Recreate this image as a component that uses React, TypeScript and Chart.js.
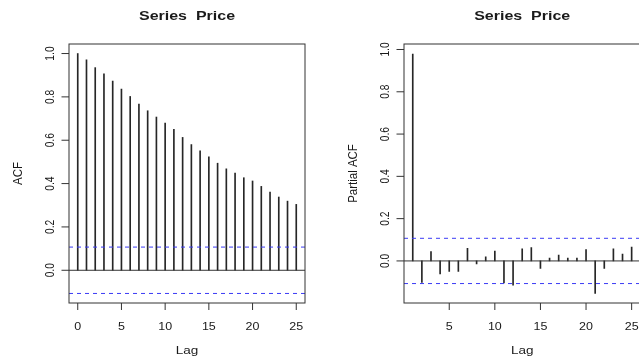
import React, { useEffect, useRef } from "react";
import { Chart, registerables } from "chart.js";

Chart.register(...registerables);

// ---- Data ----
const chartTitle = "Series  Price";
const xAxisTitle = "Lag";
const acfAxisTitle = "ACF";
const pacfAxisTitle = "Partial ACF";

const acfLags = [0, 1, 2, 3, 4, 5, 6, 7, 8, 9, 10, 11, 12, 13, 14, 15, 16, 17, 18, 19, 20, 21, 22, 23, 24, 25];
const acfValues = [
  1.0, 0.971, 0.935, 0.906, 0.873, 0.836, 0.802, 0.767, 0.736, 0.707, 0.679, 0.65, 0.613,
  0.58, 0.551, 0.523, 0.494, 0.468, 0.448, 0.427, 0.412, 0.387, 0.361, 0.338, 0.319, 0.304,
];

const pacfLags = [1, 2, 3, 4, 5, 6, 7, 8, 9, 10, 11, 12, 13, 14, 15, 16, 17, 18, 19, 20, 21, 22, 23, 24, 25];
const pacfValues = [
  0.978, -0.102, 0.044, -0.061, -0.05, -0.05, 0.06, -0.014, 0.019, 0.047, -0.104, -0.115, 0.057,
  0.063, -0.036, 0.014, 0.028, 0.014, 0.014, 0.054, -0.154, -0.036, 0.057, 0.032, 0.066,
];

const ciBound = 0.107;

const acfXTicks = [0, 5, 10, 15, 20, 25];
const pacfXTicks = [5, 10, 15, 20, 25];
const yTickValues = [0, 0.2, 0.4, 0.6, 0.8, 1.0];
const yTickLabels = ["0.0", "0.2", "0.4", "0.6", "0.8", "1.0"];

// axis ranges (R style 4% extension)
const acfXRange = [-1, 26];
const acfYRange = [-0.151, 1.044];
const pacfXRange = [0.04, 25.96];
const pacfYRange = [-0.199, 1.026];

const FONT = "'Liberation Sans', Arial, sans-serif";
const TEXT_COLOR = "#1a1a1a";

function drawText(
  ctx: CanvasRenderingContext2D,
  text: string,
  x: number,
  y: number,
  font: string,
  sy: number,
  rot: number
) {
  ctx.save();
  ctx.translate(x, y);
  ctx.scale(1, sy);
  if (rot) ctx.rotate(rot);
  ctx.font = font;
  ctx.fillStyle = TEXT_COLOR;
  ctx.textAlign = "center";
  ctx.textBaseline = "alphabetic";
  ctx.fillText(text, 0, 0);
  ctx.restore();
}

const rPlot = {
  id: "rPlot",
  afterDraw(chart: any, _args: any, opts: any) {
    const { ctx, chartArea: a } = chart;
    const xs = chart.scales.x;
    const ys = chart.scales.y;
    ctx.save();
    // box
    ctx.strokeStyle = "#333";
    ctx.lineWidth = 1;
    ctx.strokeRect(a.left, a.top, a.right - a.left, a.bottom - a.top);

    // x axis ticks
    ctx.beginPath();
    (opts.xTicks as number[]).forEach((v) => {
      const px = xs.getPixelForValue(v);
      ctx.moveTo(px, a.bottom);
      ctx.lineTo(px, a.bottom + 7);
    });
    // y axis ticks
    (opts.yTicks as number[]).forEach((v) => {
      const py = ys.getPixelForValue(v);
      ctx.moveTo(a.left, py);
      ctx.lineTo(a.left - 7.5, py);
    });
    ctx.stroke();

    // x tick labels
    (opts.xTicks as number[]).forEach((v) => {
      const px = xs.getPixelForValue(v);
      drawText(ctx, String(v), px, a.bottom + 26.5, `12.5px ${FONT}`, 0.85, 0);
    });
    // y tick labels (rotated)
    (opts.yTicks as number[]).forEach((v, i) => {
      const py = ys.getPixelForValue(v);
      drawText(ctx, opts.yLabels[i], a.left - 15, py, `12px ${FONT}`, 0.85, -Math.PI / 2);
    });

    const cx = (a.left + a.right) / 2;
    // axis titles
    drawText(ctx, opts.xTitle, cx, a.bottom + 51, `13.5px ${FONT}`, 0.85, 0);
    drawText(ctx, opts.yTitle, a.left - 47, (a.top + a.bottom) / 2, `13.5px ${FONT}`, 0.85, -Math.PI / 2);
    // main title
    drawText(ctx, opts.title, cx, 19.5, `bold 16px ${FONT}`, 0.8, 0);
    ctx.restore();
  },
};

type PanelProps = {
  left: number;
  width: number;
  lags: number[];
  values: number[];
  xRange: number[];
  yRange: number[];
  xTicks: number[];
  yTitle: string;
  padding: { left: number; right: number; top: number; bottom: number };
};

function Panel(props: PanelProps) {
  const ref = useRef<HTMLCanvasElement>(null);
  useEffect(() => {
    const [xMin, xMax] = props.xRange;
    const [yMin, yMax] = props.yRange;
    const ciStyle = {
      borderColor: "#3b3bf5",
      borderDash: [4, 4],
      borderWidth: 1,
      pointRadius: 0,
      order: 1,
    };
    const chart = new Chart(ref.current as HTMLCanvasElement, {
      type: "bar",
      data: {
        datasets: [
          {
            type: "line",
            data: [
              { x: xMin, y: ciBound },
              { x: xMax, y: ciBound },
            ],
            ...ciStyle,
          } as any,
          {
            type: "line",
            data: [
              { x: xMin, y: -ciBound },
              { x: xMax, y: -ciBound },
            ],
            ...ciStyle,
          } as any,
          {
            type: "line",
            data: [
              { x: xMin, y: 0 },
              { x: xMax, y: 0 },
            ],
            borderColor: "#333",
            borderWidth: 1,
            pointRadius: 0,
            order: 2,
          } as any,
          {
            type: "bar",
            data: props.lags.map((l, i) => ({ x: l, y: props.values[i] })),
            backgroundColor: "#262626",
            borderWidth: 0,
            barThickness: 1,
            order: 3,
          } as any,
        ],
      },
      options: {
        animation: false,
        responsive: false,
        events: [],
        layout: { padding: props.padding },
        plugins: {
          legend: { display: false },
          tooltip: { enabled: false },
          title: { display: false },
          rPlot: {
            xTicks: props.xTicks,
            yTicks: yTickValues,
            yLabels: yTickLabels,
            xTitle: xAxisTitle,
            yTitle: props.yTitle,
            title: chartTitle,
          },
        } as any,
        scales: {
          x: {
            type: "linear",
            min: xMin,
            max: xMax,
            offset: false,
            grid: { offset: false },
            display: false,
          },
          y: { type: "linear", min: yMin, max: yMax, display: false },
        },
      },
      plugins: [rPlot],
    });
    return () => chart.destroy();
  }, []);
  return (
    <canvas
      ref={ref}
      width={props.width}
      height={360}
      style={{ position: "absolute", left: props.left, top: 0, width: props.width, height: 360 }}
    />
  );
}

export default function App() {
  return (
    <div
      style={{
        position: "fixed",
        left: 0,
        top: 0,
        width: 639,
        height: 360,
        overflow: "hidden",
        background: "#fff",
      }}
    >
      <Panel
        left={0}
        width={320}
        lags={acfLags}
        values={acfValues}
        xRange={acfXRange}
        yRange={acfYRange}
        xTicks={acfXTicks}
        yTitle={acfAxisTitle}
        padding={{ left: 69, right: 15, top: 44, bottom: 57 }}
      />
      <Panel
        left={320}
        width={322}
        lags={pacfLags}
        values={pacfValues}
        xRange={pacfXRange}
        yRange={pacfYRange}
        xTicks={pacfXTicks}
        yTitle={pacfAxisTitle}
        padding={{ left: 84, right: 1.6, top: 44, bottom: 57 }}
      />
    </div>
  );
}
